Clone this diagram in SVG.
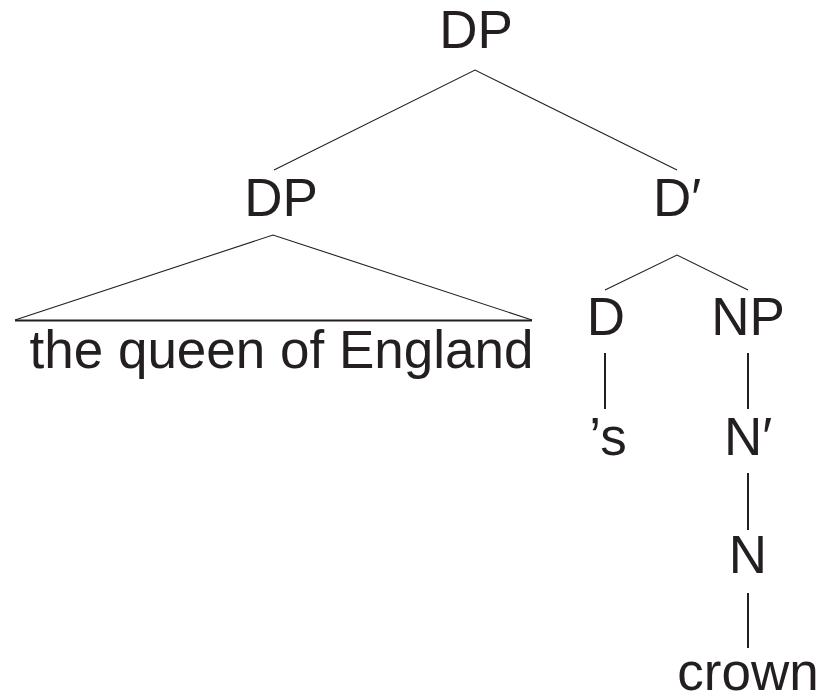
<svg xmlns="http://www.w3.org/2000/svg" width="823" height="698" viewBox="0 0 823 698">
  <style>
    text { font-family: "Liberation Sans", Arial, Helvetica, sans-serif; font-size: 53px; fill: #231f20; text-anchor: middle; }
    .br { stroke: #231f20; stroke-width: 1.1; fill: none; }
    .vt { stroke: #231f20; stroke-width: 2; fill: none; }
  </style>
  <rect width="823" height="698" fill="#ffffff"/>

  <!-- branches -->
  <g id="connectors">
    <polyline class="br" points="274,170 475,70 677,170"/>
    <polyline class="br" points="15,320 273,235 532,320"/>
    <line class="vt" x1="15" y1="320.5" x2="532" y2="320.5"/>
    <polyline class="br" points="605,290 677,255 748,290"/>
    <line class="vt" x1="605" y1="353" x2="605" y2="409"/>
    <line class="vt" x1="748" y1="353" x2="748" y2="409"/>
    <line class="vt" x1="748" y1="473" x2="748" y2="530"/>
    <line class="vt" x1="748" y1="593" x2="748" y2="648"/>
  </g>

  <!-- labels -->
  <g id="dp-root"><text x="476" y="48">DP</text></g>
  <g id="dp-spec"><text x="281" y="216">DP</text></g>
  <g id="spec-words"><text x="281.5" y="368">the queen of England</text></g>
  <g id="d-bar"><text x="677" y="216">D′</text></g>
  <g id="d-head"><text x="606" y="335">D</text></g>
  <g id="np"><text x="748" y="335">NP</text></g>
  <g id="poss"><text x="608" y="455">’s</text></g>
  <g id="n-bar"><text x="748" y="455">N′</text></g>
  <g id="n-head"><text x="748" y="573">N</text></g>
  <g id="crown"><text x="748" y="690">crown</text></g>
</svg>
